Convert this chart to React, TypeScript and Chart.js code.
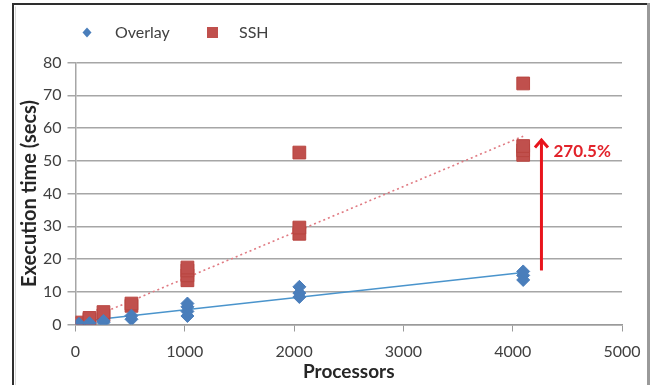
import { useEffect, useRef } from "react";
import { Chart, registerables } from "chart.js";

Chart.register(...registerables);

// ---- data ----
const overlayX = [32, 128, 256, 256, 512, 512, 1024, 1024, 1024, 1024, 2048, 2048, 2048, 4096, 4096, 4096];
const overlayY = [0.2, 0.4, 0.6, 1.1, 1.6, 2.7, 2.6, 4.0, 5.4, 6.4, 8.4, 9.6, 11.5, 13.6, 15.0, 16.2];

const sshX = [32, 32, 128, 128, 256, 256, 512, 512, 1024, 1024, 1024, 1024, 2048, 2048, 2048, 4096, 4096, 4096, 4096];
const sshY = [0.2, 0.6, 1.5, 2.0, 2.8, 3.8, 5.7, 6.4, 13.5, 15.0, 16.5, 17.4, 27.7, 29.6, 52.5, 51.8, 53.2, 54.5, 73.6];

const overlayTrendX = [32, 4096];
const overlayTrendY = [0.9, 15.9];
const sshTrendX = [32, 4096];
const sshTrendY = [0.5, 57.5];

const seriesNames = ["Overlay", "SSH"];
const xTitle = "Processors";
const yTitle = "Execution time (secs)";

const arrowX = 4263;
const arrowFrom = 16.5;
const arrowTo = 56.8;
const arrowLabel = "270.5%";
const arrowLabelY = 52.7;

const BLUE = "#4a7ebb";
const RED = "#c0504d";
const ARROW_RED = "#e8141c";
const FONT = "Lato, 'Open Sans', sans-serif";

const zip = (xs: number[], ys: number[]) => xs.map((x, i) => ({ x, y: ys[i] }));

const framePlugin = {
  id: "frame",
  beforeDraw(chart: any) {
    const { ctx, width, height } = chart;
    ctx.save();
    ctx.fillStyle = "#ffffff";
    ctx.fillRect(0, 0, width, height);
    ctx.strokeStyle = "#2e2e2e";
    ctx.lineWidth = 2;
    ctx.beginPath();
    ctx.moveTo(13, height);
    ctx.lineTo(13, 4);
    ctx.lineTo(width - 4, 4);
    ctx.stroke();
    ctx.strokeStyle = "#d8d8d8";
    ctx.lineWidth = 1;
    ctx.beginPath();
    ctx.moveTo(15.5, height);
    ctx.lineTo(15.5, 6.5);
    ctx.stroke();
    ctx.strokeStyle = "#9a9a9a";
    ctx.lineWidth = 3;
    ctx.beginPath();
    ctx.moveTo(width - 3.5, 3);
    ctx.lineTo(width - 3.5, height);
    ctx.stroke();
    ctx.restore();
  },
};

const legendPlugin = {
  id: "customLegend",
  afterDraw(chart: any) {
    const { ctx } = chart;
    ctx.save();
    ctx.font = `16px ${FONT}`;
    ctx.textBaseline = "middle";
    const y = 32.5;
    // Overlay diamond
    ctx.fillStyle = BLUE;
    ctx.beginPath();
    ctx.moveTo(87, y - 5);
    ctx.lineTo(91.5, y);
    ctx.lineTo(87, y + 5);
    ctx.lineTo(82.5, y);
    ctx.closePath();
    ctx.fill();
    ctx.fillStyle = "#404040";
    ctx.fillText(seriesNames[0], 115, y);
    // SSH square
    ctx.fillStyle = RED;
    ctx.fillRect(207, y - 5.5, 11, 11);
    ctx.fillStyle = "#404040";
    ctx.fillText(seriesNames[1], 239, y);
    ctx.restore();
  },
};

const arrowPlugin = {
  id: "arrowNote",
  afterDatasetsDraw(chart: any) {
    const { ctx, scales } = chart;
    const px = scales.x.getPixelForValue(arrowX);
    const y0 = scales.y.getPixelForValue(arrowFrom);
    const y1 = scales.y.getPixelForValue(arrowTo);
    ctx.save();
    ctx.strokeStyle = ARROW_RED;
    ctx.lineWidth = 3;
    ctx.lineCap = "butt";
    ctx.beginPath();
    ctx.moveTo(px, y0);
    ctx.lineTo(px, y1 + 1);
    ctx.stroke();
    ctx.lineJoin = "miter";
    ctx.beginPath();
    ctx.moveTo(px - 6.5, y1 + 9);
    ctx.lineTo(px, y1 + 1.5);
    ctx.lineTo(px + 6.5, y1 + 9);
    ctx.stroke();
    ctx.fillStyle = "#e2232b";
    ctx.font = `bold 17px ${FONT}`;
    ctx.textBaseline = "middle";
    ctx.textAlign = "left";
    ctx.fillText(arrowLabel, px + 12, scales.y.getPixelForValue(arrowLabelY));
    ctx.restore();
  },
};

export default function App() {
  const ref = useRef<HTMLCanvasElement | null>(null);

  useEffect(() => {
    if (!ref.current) return;
    const chart = new Chart(ref.current, {
      type: "scatter",
      data: {
        datasets: [
          {
            label: seriesNames[0],
            data: zip(overlayX, overlayY),
            pointStyle: "rectRot",
            pointRadius: 6.5,
            backgroundColor: BLUE,
            borderColor: BLUE,
            borderWidth: 1,
            order: 1,
          },
          {
            label: seriesNames[1],
            data: zip(sshX, sshY),
            pointStyle: "rect",
            pointRadius: 9,
            backgroundColor: RED,
            borderColor: "#b8443f",
            borderWidth: 1,
            order: 1,
          },
          {
            label: "Overlay trend",
            data: zip(overlayTrendX, overlayTrendY),
            showLine: true,
            pointRadius: 0,
            borderColor: "#4a94cc",
            borderWidth: 1.6,
            order: 2,
          },
          {
            label: "SSH trend",
            data: zip(sshTrendX, sshTrendY),
            showLine: true,
            pointRadius: 0,
            borderColor: "#e07a82",
            borderWidth: 1.6,
            borderDash: [2, 3],
            order: 2,
          },
        ] as any,
      },
      options: {
        animation: false,
        responsive: false,
        layout: { padding: { left: 0, right: 30, top: 62.5, bottom: 0 } },
        plugins: {
          legend: { display: false },
          tooltip: { enabled: false },
        },
        scales: {
          x: {
            type: "linear",
            min: 0,
            max: 5000,
            ticks: {
              stepSize: 1000,
              color: "#404040",
              padding: 11,
              font: { family: FONT, size: 16 },
              maxRotation: 0,
              callback: (v: any) => String(v),
            },
            grid: {
              drawOnChartArea: false,
              drawTicks: true,
              tickLength: 7,
              color: "#9a9a9a",
            },
            border: { display: true, color: "#9a9a9a", width: 1.5 },
            title: {
              display: true,
              text: xTitle,
              color: "#262626",
              font: { family: FONT, size: 19, weight: "bold" },
              padding: { top: 0, bottom: 1.5 },
            },
            afterFit: (s: any) => {
              s.height = 60.5;
            },
          },
          y: {
            type: "linear",
            min: 0,
            max: 80,
            ticks: {
              stepSize: 10,
              color: "#404040",
              padding: 6,
              font: { family: FONT, size: 16 },
            },
            grid: {
              color: "#a6a6a6",
              lineWidth: 1.5,
              tickLength: 8,
            },
            border: { display: true, color: "#a6a6a6", width: 1.5 },
            title: {
              display: true,
              text: yTitle,
              color: "#262626",
              font: { family: FONT, size: 20, weight: "bold" },
              padding: { top: 18, bottom: 0 },
            },
            afterFit: (s: any) => {
              s.width = 75.5;
            },
          },
        },
      },
      plugins: [framePlugin, legendPlugin, arrowPlugin],
    });
    return () => chart.destroy();
  }, []);

  return (
    <div style={{ position: "fixed", left: 0, top: 0, width: 652, height: 385 }}>
      <canvas ref={ref} width={652} height={385} style={{ display: "block" }} />
    </div>
  );
}
